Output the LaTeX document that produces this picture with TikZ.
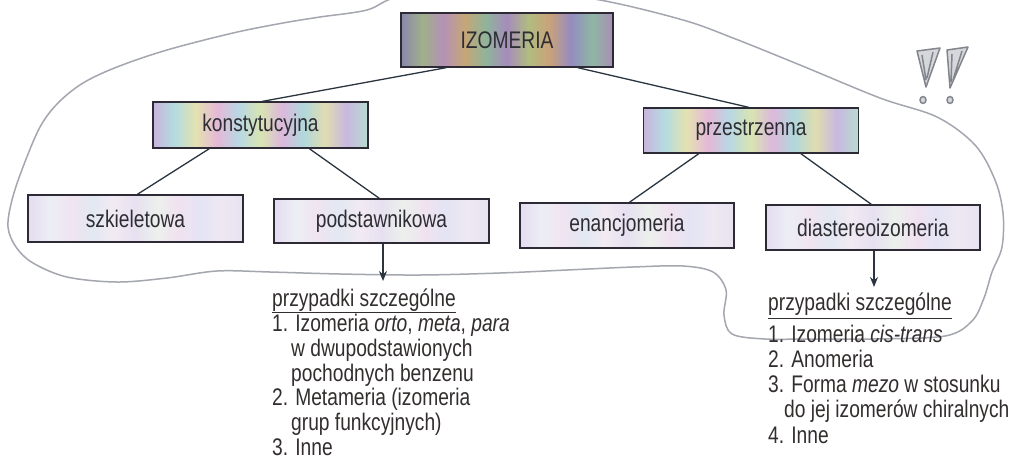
\documentclass[tikz,border=0pt]{standalone}
\usepackage{fontspec}
\setmainfont[FakeStretch=0.8]{Liberation Sans}
\usetikzlibrary{arrows.meta}
\definecolor{boxline}{HTML}{2E2A35}
\definecolor{connc}{HTML}{2A3540}
\definecolor{labtext}{HTML}{2D2D33}
\definecolor{listc}{HTML}{332E2E}
\definecolor{pencil}{HTML}{A4A6B0}
% top level
\definecolor{a1}{HTML}{8A86AC}\definecolor{a2}{HTML}{9FB08A}\definecolor{a3}{HTML}{B592B6}
\definecolor{a4}{HTML}{C6A676}\definecolor{a5}{HTML}{8FB49A}\definecolor{a6}{HTML}{A68CBC}
\definecolor{a7}{HTML}{B0BC80}\definecolor{a8}{HTML}{C9A27A}\definecolor{a9}{HTML}{948CC0}
\definecolor{a10}{HTML}{8FB6A4}\definecolor{a11}{HTML}{A890B4}
% second level
\definecolor{b1}{HTML}{C8B4DC}\definecolor{b2}{HTML}{B4DCE0}\definecolor{b3}{HTML}{E4E2B0}
\definecolor{b4}{HTML}{E4B8D8}\definecolor{b5}{HTML}{B8D8E4}\definecolor{b6}{HTML}{D8E4B0}
\definecolor{b7}{HTML}{DCB8DC}\definecolor{b8}{HTML}{B0D8DC}\definecolor{b9}{HTML}{E0DCB0}
\definecolor{b10}{HTML}{C8B8E0}\definecolor{b11}{HTML}{B8DCD0}
% third level
\definecolor{c1}{HTML}{E4DCF0}\definecolor{c2}{HTML}{ECEEF4}\definecolor{c3}{HTML}{F0E4F0}
\definecolor{c4}{HTML}{E2E8F2}\definecolor{c5}{HTML}{F2EAF2}\definecolor{c6}{HTML}{E6E0F0}
\definecolor{c7}{HTML}{ECF0EC}\definecolor{c8}{HTML}{F0E2F0}\definecolor{c9}{HTML}{E4E4F4}
\definecolor{c10}{HTML}{EEE8F2}\definecolor{c11}{HTML}{E6E2F0}
\pgfdeclarehorizontalshading{iridA}{100bp}{color(0bp)=(a1); color(25bp)=(a1); color(30bp)=(a2); color(35bp)=(a3); color(40bp)=(a4); color(45bp)=(a5); color(50bp)=(a6); color(55bp)=(a7); color(60bp)=(a8); color(65bp)=(a9); color(70bp)=(a10); color(75bp)=(a11); color(100bp)=(a11)}
\pgfdeclarehorizontalshading{iridB}{100bp}{color(0bp)=(b1); color(25bp)=(b1); color(30bp)=(b2); color(35bp)=(b3); color(40bp)=(b4); color(45bp)=(b5); color(50bp)=(b6); color(55bp)=(b7); color(60bp)=(b8); color(65bp)=(b9); color(70bp)=(b10); color(75bp)=(b11); color(100bp)=(b11)}
\pgfdeclarehorizontalshading{iridC}{100bp}{color(0bp)=(c1); color(25bp)=(c1); color(30bp)=(c2); color(35bp)=(c3); color(40bp)=(c4); color(45bp)=(c5); color(50bp)=(c6); color(55bp)=(c7); color(60bp)=(c8); color(65bp)=(c9); color(70bp)=(c10); color(75bp)=(c11); color(100bp)=(c11)}
\tikzset{
  lab/.style={draw=boxline, line width=1.3pt, shade, inner sep=0pt, text=labtext, font=\fontsize{24}{25}\selectfont},
  toplab/.style={lab, shading=iridA, minimum width=212pt, minimum height=54pt},
  midlab/.style={lab, shading=iridB, minimum width=215pt, minimum height=46pt},
  leaflab/.style={lab, shading=iridC, minimum width=215pt, minimum height=45pt},
  conn/.style={draw=connc, line width=1.3pt},
  arr/.style={conn, -{Stealth[length=10pt,width=8pt]}},
  listtxt/.style={anchor=base west, inner sep=0pt, text=listc, font=\fontsize{24}{25}\selectfont},
  uline/.style={draw=listc, line width=1pt},
  outline/.style={draw=pencil, line width=1.5pt},
  exmark/.style={draw=pencil!80!black, fill=pencil!45, line width=1.5pt, line join=round},
}
\begin{document}
\begin{tikzpicture}[x=1pt, y=-1pt]
\useasboundingbox (0,0) rectangle (1014,464);
\clip (0,0) rectangle (1014,464);
\fill[white] (0,0) rectangle (1014,464);

% hand-drawn outline
\draw[outline] plot[smooth cycle, tension=0.55] coordinates {
 (500,-14) (600,0) (683,20) (733,38) (800,65) (880,98) (937,117) (975,145)
 (995,180) (1003,213) (1002,247) (992,272) (984,298) (972,321) (945,336)
 (873,339) (807,339) (765,339) (732,334) (724,315) (726,290) (713,272)
 (683,266) (633,267) (567,270) (500,273) (420,275) (340,274) (270,272)
 (217,271) (167,278) (117,282) (67,277) (33,263) (16,247) (8,227) (12,200)
 (23,167) (40,127) (58,103) (83,83) (117,67) (167,50) (233,33) (283,23)
 (320,17) (367,10) (402,-4)};

% exclamation marks
\draw[exmark] (917,51) -- (940,48) -- (926,87) -- cycle (922,55) -- (926,80) (933,52) -- (927,78);
\draw[exmark] (947,50) -- (968,47) -- (950,88) -- cycle (952,54) -- (951,82) (962,51) -- (953,80);
\draw[exmark] (923,100) ellipse (3pt and 3.5pt);
\draw[exmark] (950,100) ellipse (3pt and 3.5pt);

% boxes
\node[toplab] (izo) at (507,40) {IZOMERIA};
\node[midlab] (kon) at (260.5,125) {konstytucyjna};
\node[midlab, minimum height=45pt] (prz) at (751,130.5) {przestrzenna};
\node[leaflab, minimum height=47pt] (szk) at (135.5,218.5) {szkieletowa};
\node[leaflab, minimum height=44pt] (pod) at (381.5,221) {podstawnikowa};
\node[leaflab, minimum width=214pt] (ena) at (627,225.5) {enancjomeria};
\node[leaflab, minimum width=214pt] (dia) at (873,227.5) {diastereoizomeria};

% connectors
\draw[conn] ([xshift=46pt]izo.south west) -- ([xshift=110pt]kon.north west);
\draw[conn] ([xshift=-36pt]izo.south east) -- ([xshift=106pt]prz.north west);
\draw[conn] ([xshift=57pt]kon.south west) -- ([xshift=110pt]szk.north west);
\draw[conn] ([xshift=157pt]kon.south west) -- ([xshift=106pt]pod.north west);
\draw[conn] ([xshift=56pt]prz.south west) -- ([xshift=110pt]ena.north west);
\draw[conn] ([xshift=158pt]prz.south west) -- ([xshift=106pt]dia.north west);

\coordinate (tipL) at (383,281);
\coordinate (tipR) at (874,287);
\draw[arr] (pod.south -| tipL) -- (tipL);
\draw[arr] (dia.south -| tipR) -- (tipR);

% left list
\node[listtxt] (l0) at (272,306) {przypadki szczególne};
\draw[uline] ([yshift=-6.5pt]l0.base west) -- ([yshift=-6.5pt]l0.base east);
\node[listtxt] (l1) at (272,331) {1. Izomeria \textit{orto}, \textit{meta}, \textit{para}};
\node[listtxt] (l2) at (291,356) {w dwupodstawionych};
\node[listtxt] (l3) at (291,381) {pochodnych benzenu};
\node[listtxt] (l4) at (272,405) {2. Metameria (izomeria};
\node[listtxt] (l5) at (291,430) {grup funkcyjnych)};
\node[listtxt] (l6) at (272,455) {3. Inne};

% right list
\node[listtxt] (r0) at (768,310) {przypadki szczególne};
\draw[uline] ([yshift=-8pt]r0.base west) -- ([yshift=-8pt]r0.base east);
\node[listtxt] (r1) at (768,342) {1. Izomeria \textit{cis-trans}};
\node[listtxt] (r2) at (768,367) {2. Anomeria};
\node[listtxt] (r3) at (768,392) {3. Forma \textit{mezo} w stosunku};
\node[listtxt] (r4) at (784,417) {do jej izomerów chiralnych};
\node[listtxt] (r5) at (768,443) {4. Inne};
\end{tikzpicture}
\end{document}
